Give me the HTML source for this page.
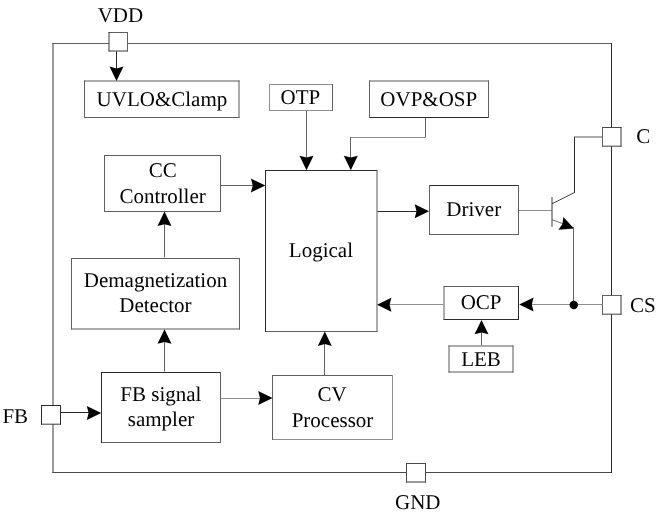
<!DOCTYPE html>
<html lang="en">
<head>
<meta charset="utf-8">
<title>Block diagram</title>
<style>
html,body{margin:0;padding:0;background:#fff;}
body{width:660px;height:517px;overflow:hidden;}
svg{display:block;will-change:transform;}
svg text{font-family:"Liberation Serif",serif;fill:#000;text-rendering:geometricPrecision;}
</style>
</head>
<body>
<svg width="660" height="517" viewBox="0 0 660 517">
<rect x="0" y="0" width="660" height="517" fill="#fff"/>
<g id="frame">
<line x1="52.5" y1="43.5" x2="612" y2="43.5" stroke="#606060" stroke-width="1"/>
<line x1="52.5" y1="472.5" x2="612" y2="472.5" stroke="#484848" stroke-width="1"/>
<line x1="53" y1="43" x2="53" y2="473" stroke="#383838" stroke-width="1"/>
<line x1="611.5" y1="43" x2="611.5" y2="473" stroke="#2a2a2a" stroke-width="1"/>
</g>
<g id="pins">
<rect x="109" y="32.5" width="18.5" height="18.5" fill="#fff"/>
<line x1="108.5" y1="32.5" x2="128" y2="32.5" stroke="#606060" stroke-width="1"/>
<line x1="108.5" y1="51" x2="128" y2="51" stroke="#383838" stroke-width="1"/>
<line x1="109" y1="32" x2="109" y2="51.5" stroke="#383838" stroke-width="1"/>
<line x1="127.5" y1="32" x2="127.5" y2="51.5" stroke="#606060" stroke-width="1"/>
<rect x="602.5" y="127.5" width="18.5" height="18.7" fill="#fff"/>
<line x1="602" y1="127.5" x2="621.5" y2="127.5" stroke="#484848" stroke-width="1"/>
<line x1="602" y1="146.2" x2="621.5" y2="146.2" stroke="#404040" stroke-width="1"/>
<line x1="602.5" y1="127" x2="602.5" y2="146.7" stroke="#606060" stroke-width="1"/>
<line x1="621" y1="127" x2="621" y2="146.7" stroke="#383838" stroke-width="1"/>
<rect x="602.5" y="295.5" width="18.5" height="18.7" fill="#fff"/>
<line x1="602" y1="295.5" x2="621.5" y2="295.5" stroke="#606060" stroke-width="1"/>
<line x1="602" y1="314.2" x2="621.5" y2="314.2" stroke="#404040" stroke-width="1"/>
<line x1="602.5" y1="295" x2="602.5" y2="314.7" stroke="#606060" stroke-width="1"/>
<line x1="621" y1="295" x2="621" y2="314.7" stroke="#383838" stroke-width="1"/>
<rect x="406.5" y="463.5" width="19" height="18.5" fill="#fff"/>
<line x1="406" y1="463.5" x2="426" y2="463.5" stroke="#484848" stroke-width="1"/>
<line x1="406" y1="482" x2="426" y2="482" stroke="#383838" stroke-width="1"/>
<line x1="406.5" y1="463" x2="406.5" y2="482.5" stroke="#484848" stroke-width="1"/>
<line x1="425.5" y1="463" x2="425.5" y2="482.5" stroke="#484848" stroke-width="1"/>
<rect x="41.5" y="405.5" width="19" height="18.7" fill="#fff"/>
<line x1="41" y1="405.5" x2="61" y2="405.5" stroke="#2a2a2a" stroke-width="1"/>
<line x1="41" y1="424.2" x2="61" y2="424.2" stroke="#404040" stroke-width="1"/>
<line x1="41.5" y1="405" x2="41.5" y2="424.7" stroke="#2a2a2a" stroke-width="1"/>
<line x1="60.5" y1="405" x2="60.5" y2="424.7" stroke="#2a2a2a" stroke-width="1"/>
</g>
<g id="blocks">
<line x1="84" y1="81" x2="239.5" y2="81" stroke="#585858" stroke-width="1"/>
<line x1="84" y1="117.5" x2="239.5" y2="117.5" stroke="#606060" stroke-width="1"/>
<line x1="84.5" y1="80.5" x2="84.5" y2="118" stroke="#606060" stroke-width="1"/>
<line x1="239" y1="80.5" x2="239" y2="118" stroke="#585858" stroke-width="1"/>
<line x1="269" y1="84.5" x2="333" y2="84.5" stroke="#8e8e8e" stroke-width="1"/>
<line x1="269" y1="110.5" x2="333" y2="110.5" stroke="#8e8e8e" stroke-width="1"/>
<line x1="269.5" y1="84" x2="269.5" y2="111" stroke="#8e8e8e" stroke-width="1"/>
<line x1="332.5" y1="84" x2="332.5" y2="111" stroke="#606060" stroke-width="1"/>
<line x1="369" y1="81" x2="489" y2="81" stroke="#585858" stroke-width="1"/>
<line x1="369" y1="117.5" x2="489" y2="117.5" stroke="#2a2a2a" stroke-width="1"/>
<line x1="369.5" y1="80.5" x2="369.5" y2="118" stroke="#606060" stroke-width="1"/>
<line x1="488.5" y1="80.5" x2="488.5" y2="118" stroke="#606060" stroke-width="1"/>
<line x1="104" y1="155.5" x2="221" y2="155.5" stroke="#606060" stroke-width="1"/>
<line x1="104" y1="211.5" x2="221" y2="211.5" stroke="#606060" stroke-width="1"/>
<line x1="104.5" y1="155" x2="104.5" y2="212" stroke="#606060" stroke-width="1"/>
<line x1="220.5" y1="155" x2="220.5" y2="212" stroke="#606060" stroke-width="1"/>
<line x1="265" y1="170.5" x2="377.5" y2="170.5" stroke="#2a2a2a" stroke-width="1"/>
<line x1="265" y1="331.5" x2="377.5" y2="331.5" stroke="#606060" stroke-width="1"/>
<line x1="265.5" y1="170" x2="265.5" y2="332" stroke="#2a2a2a" stroke-width="1"/>
<line x1="377" y1="170" x2="377" y2="332" stroke="#585858" stroke-width="1"/>
<line x1="429" y1="185.5" x2="519" y2="185.5" stroke="#2a2a2a" stroke-width="1"/>
<line x1="429" y1="234.5" x2="519" y2="234.5" stroke="#606060" stroke-width="1"/>
<line x1="429.5" y1="185" x2="429.5" y2="235" stroke="#606060" stroke-width="1"/>
<line x1="518.5" y1="185" x2="518.5" y2="235" stroke="#606060" stroke-width="1"/>
<line x1="71" y1="258.5" x2="240" y2="258.5" stroke="#606060" stroke-width="1"/>
<line x1="71" y1="329" x2="240" y2="329" stroke="#585858" stroke-width="1"/>
<line x1="71.5" y1="258" x2="71.5" y2="329.5" stroke="#606060" stroke-width="1"/>
<line x1="239.5" y1="258" x2="239.5" y2="329.5" stroke="#606060" stroke-width="1"/>
<line x1="101" y1="372.5" x2="221" y2="372.5" stroke="#2a2a2a" stroke-width="1"/>
<line x1="101" y1="442.5" x2="221" y2="442.5" stroke="#606060" stroke-width="1"/>
<line x1="101.5" y1="372" x2="101.5" y2="443" stroke="#2a2a2a" stroke-width="1"/>
<line x1="220.5" y1="372" x2="220.5" y2="443" stroke="#606060" stroke-width="1"/>
<line x1="272" y1="375.5" x2="393" y2="375.5" stroke="#606060" stroke-width="1"/>
<line x1="272" y1="439.5" x2="393" y2="439.5" stroke="#8e8e8e" stroke-width="1"/>
<line x1="272.5" y1="375" x2="272.5" y2="440" stroke="#606060" stroke-width="1"/>
<line x1="392.5" y1="375" x2="392.5" y2="440" stroke="#8e8e8e" stroke-width="1"/>
<line x1="443.5" y1="286.5" x2="519" y2="286.5" stroke="#606060" stroke-width="1"/>
<line x1="443.5" y1="319.5" x2="519" y2="319.5" stroke="#2a2a2a" stroke-width="1"/>
<line x1="444" y1="286" x2="444" y2="320" stroke="#585858" stroke-width="1"/>
<line x1="518.5" y1="286" x2="518.5" y2="320" stroke="#2a2a2a" stroke-width="1"/>
<line x1="448.5" y1="346" x2="513.5" y2="346" stroke="#585858" stroke-width="1"/>
<line x1="448.5" y1="372" x2="513.5" y2="372" stroke="#585858" stroke-width="1"/>
<line x1="449" y1="345.5" x2="449" y2="372.5" stroke="#585858" stroke-width="1"/>
<line x1="513" y1="345.5" x2="513" y2="372.5" stroke="#585858" stroke-width="1"/>
</g>
<g id="wires">
<line x1="116.5" y1="51.5" x2="116.5" y2="70" stroke="#2a2a2a" stroke-width="1"/>
<polygon points="116.50,81.00 109.50,66.60 116.50,68.40 123.50,66.60" fill="#000"/>
<line x1="306.5" y1="110.9" x2="306.5" y2="160" stroke="#606060" stroke-width="1"/>
<polygon points="306.50,170.20 299.50,155.80 306.50,157.60 313.50,155.80" fill="#000"/>
<line x1="425.5" y1="118" x2="425.5" y2="137.7" stroke="#606060" stroke-width="1"/>
<line x1="350.1" y1="137.5" x2="426" y2="137.5" stroke="#8e8e8e" stroke-width="1"/>
<line x1="350.5" y1="137.2" x2="350.5" y2="160" stroke="#606060" stroke-width="1"/>
<polygon points="350.80,170.20 343.80,155.80 350.80,157.60 357.80,155.80" fill="#000"/>
<line x1="221" y1="185.5" x2="255" y2="185.5" stroke="#606060" stroke-width="1"/>
<polygon points="265.30,185.60 250.90,192.60 252.70,185.60 250.90,178.60" fill="#000"/>
<line x1="164.5" y1="222" x2="164.5" y2="257.5" stroke="#606060" stroke-width="1"/>
<polygon points="164.50,211.60 171.50,226.00 164.50,224.20 157.50,226.00" fill="#000"/>
<line x1="164.5" y1="340" x2="164.5" y2="371.5" stroke="#606060" stroke-width="1"/>
<polygon points="164.50,329.30 171.50,343.70 164.50,341.90 157.50,343.70" fill="#000"/>
<line x1="61" y1="412.5" x2="90" y2="412.5" stroke="#2a2a2a" stroke-width="1"/>
<polygon points="101.20,412.90 86.80,419.90 88.60,412.90 86.80,405.90" fill="#000"/>
<line x1="221" y1="398.5" x2="262" y2="398.5" stroke="#8e8e8e" stroke-width="1"/>
<polygon points="272.60,398.00 258.20,405.00 260.00,398.00 258.20,391.00" fill="#000"/>
<line x1="324.5" y1="342" x2="324.5" y2="375.3" stroke="#606060" stroke-width="1"/>
<polygon points="324.80,331.50 331.80,345.90 324.80,344.10 317.80,345.90" fill="#000"/>
<line x1="377.5" y1="211.5" x2="418" y2="211.5" stroke="#2a2a2a" stroke-width="1"/>
<polygon points="429.10,211.20 414.70,218.20 416.50,211.20 414.70,204.20" fill="#000"/>
<line x1="519" y1="210.5" x2="552" y2="210.5" stroke="#8e8e8e" stroke-width="1"/>
<line x1="552" y1="197" x2="552" y2="226.8" stroke="#383838" stroke-width="1"/>
<line x1="552" y1="203.8" x2="574.5" y2="192.5" stroke="#2a2a2a" stroke-width="0.9"/>
<line x1="574.5" y1="137" x2="574.5" y2="192.8" stroke="#2a2a2a" stroke-width="1"/>
<line x1="574" y1="137" x2="602.5" y2="137" stroke="#585858" stroke-width="1"/>
<line x1="552" y1="219.6" x2="566" y2="224.9" stroke="#606060" stroke-width="0.9"/>
<polygon points="574.00,228.40 558.49,229.74 562.42,223.97 563.36,217.04" fill="#000"/>
<line x1="573.5" y1="227" x2="573.5" y2="304.5" stroke="#606060" stroke-width="1"/>
<line x1="530" y1="304.5" x2="602.5" y2="304.5" stroke="#8e8e8e" stroke-width="1"/>
<polygon points="519.20,304.60 533.60,297.60 531.80,304.60 533.60,311.60" fill="#000"/>
<circle cx="573.8" cy="305" r="4.2" fill="#000"/>
<line x1="388" y1="304.5" x2="443.4" y2="304.5" stroke="#8e8e8e" stroke-width="1"/>
<polygon points="377.00,304.80 391.40,297.80 389.60,304.80 391.40,311.80" fill="#000"/>
<line x1="481.5" y1="330" x2="481.5" y2="345.7" stroke="#606060" stroke-width="1"/>
<polygon points="481.50,319.90 488.50,334.30 481.50,332.50 474.50,334.30" fill="#000"/>
</g>
<g id="labels">
<text x="120.4" y="22.2" font-size="21" text-anchor="middle">VDD</text>
<text x="161.9" y="106.2" font-size="21" text-anchor="middle">UVLO&amp;Clamp</text>
<text x="300.4" y="104.1" font-size="21" text-anchor="middle">OTP</text>
<text x="428.75" y="106.45" font-size="21" text-anchor="middle">OVP&amp;OSP</text>
<text x="162.75" y="176.8" font-size="21" text-anchor="middle">CC</text>
<text x="162.6" y="202.8" font-size="21" text-anchor="middle">Controller</text>
<text x="320.9" y="257" font-size="21" text-anchor="middle">Logical</text>
<text x="473.75" y="216" font-size="21" text-anchor="middle">Driver</text>
<text x="155.5" y="287" font-size="21" text-anchor="middle">Demagnetization</text>
<text x="155.4" y="312.3" font-size="21" text-anchor="middle">Detector</text>
<text x="160.9" y="400.5" font-size="21" text-anchor="middle">FB signal</text>
<text x="161" y="426.25" font-size="21" text-anchor="middle">sampler</text>
<text x="332" y="400.5" font-size="21" text-anchor="middle">CV</text>
<text x="332.5" y="426.5" font-size="21" text-anchor="middle">Processor</text>
<text x="481.1" y="309" font-size="21" text-anchor="middle">OCP</text>
<text x="481" y="365.5" font-size="21" text-anchor="middle">LEB</text>
<text x="643.2" y="142.5" font-size="21" text-anchor="middle">C</text>
<text x="642.75" y="312.2" font-size="21" text-anchor="middle">CS</text>
<text x="417.75" y="509" font-size="21" text-anchor="middle">GND</text>
<text x="15.25" y="423" font-size="21" text-anchor="middle">FB</text>
</g>
</svg>
</body>
</html>
